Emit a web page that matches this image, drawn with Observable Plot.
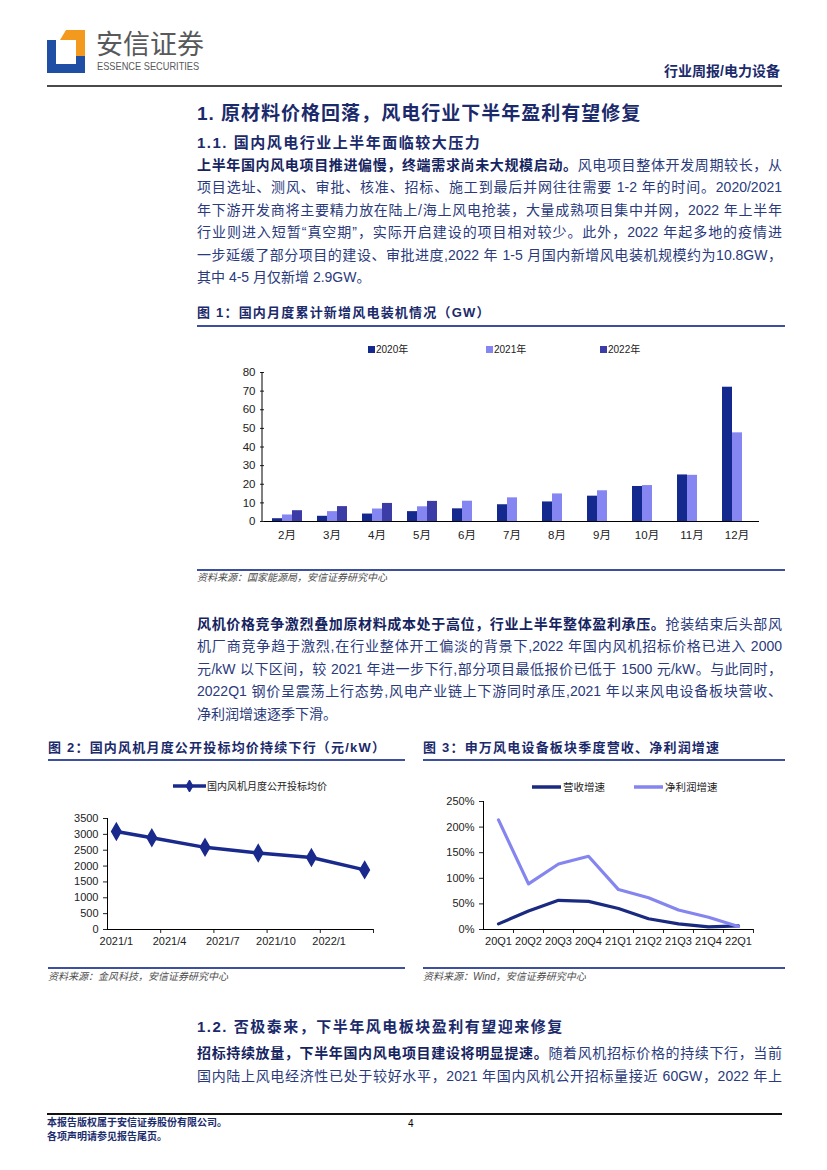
<!DOCTYPE html>
<html><head><meta charset="utf-8">
<script src="https://cdn.jsdelivr.net/npm/d3@7"></script>
<script src="https://cdn.jsdelivr.net/npm/@observablehq/plot@0.6"></script>
<style>
body{margin:0;background:#fff;}
#page{position:relative;width:827px;height:1170px;overflow:hidden;background:#fff;font-family:"Liberation Sans","Noto Sans CJK SC",sans-serif;color:#2a3a7c;}
.abs{position:absolute;white-space:nowrap;}
.line{position:absolute;left:197px;width:585px;font-size:14px;height:22px;line-height:22px;text-align:justify;text-align-last:justify;}
.last{text-align:left;text-align-last:left;}
.line b{color:#152460;}
.h1{left:197px;font-size:19px;font-weight:bold;color:#1b2a6b;letter-spacing:1px;line-height:26px;}
.h2{left:197px;font-size:15px;font-weight:bold;color:#1b2a6b;letter-spacing:1.5px;line-height:22px;}
.ft{font-size:13px;font-weight:bold;color:#1b2a6b;letter-spacing:1.2px;line-height:18px;}
.rule{position:absolute;height:2px;background:#3d4f9f;}
.src{font-size:10px;font-style:italic;color:#4d4d4d;line-height:14px;}
.leg{font-size:10px;color:#222;line-height:14px;}
.foot{font-size:10px;font-weight:bold;color:#1c2d6e;line-height:14px;left:47px;}
</style></head>
<body>
<div id="page">
  <!-- header -->
  <svg class="abs" style="left:47px;top:30px" width="40" height="44">
    <polygon points="0,10 9,10 9,34 29,34 29,26 38,26 38,43 0,43" fill="#1f4fa4"/>
    <polygon points="19,0 38,0 38,26 29,26 29,10 13,10" fill="#f39a1e"/>
  </svg>
  <div class="abs" style="left:96px;top:28px;font-size:27px;color:#58595b;line-height:34px;">安信证券</div>
  <div class="abs" style="left:97px;top:60px;font-size:10.5px;color:#58595b;line-height:13px;transform:scaleX(0.88);transform-origin:left;">ESSENCE SECURITIES</div>
  <div class="abs" style="right:47px;top:62px;font-size:14px;font-weight:bold;color:#1b2a6b;line-height:18px;">行业周报/电力设备</div>
  <div class="abs" style="left:47px;top:85px;width:735px;height:2px;background:#4a4a4a;"></div>

  <div class="abs h1" style="top:101px;">1. 原材料价格回落，风电行业下半年盈利有望修复</div>
  <div class="abs h2" style="top:132px;">1.1. 国内风电行业上半年面临较大压力</div>

  <div class="line" style="top:154px;"><b>上半年国内风电项目推进偏慢，终端需求尚未大规模启动。</b>风电项目整体开发周期较长，从</div>
  <div class="line" style="top:176px;">项目选址、测风、审批、核准、招标、施工到最后并网往往需要 1-2 年的时间。2020/2021</div>
  <div class="line" style="top:199px;">年下游开发商将主要精力放在陆上/海上风电抢装，大量成熟项目集中并网，2022 年上半年</div>
  <div class="line" style="top:221px;">行业则进入短暂“真空期”，实际开启建设的项目相对较少。此外，2022 年起多地的疫情进</div>
  <div class="line" style="top:244px;">一步延缓了部分项目的建设、审批进度,2022 年 1-5 月国内新增风电装机规模约为10.8GW，</div>
  <div class="line last" style="top:266px;">其中 4-5 月仅新增 2.9GW。</div>

  <div class="abs ft" style="left:197px;top:304px;">图 1：国内月度累计新增风电装机情况（GW）</div>
  <div class="rule" style="left:197px;top:325px;width:588px;"></div>
  <div id="leg1"></div>
  <div id="c1" class="abs" style="left:190px;top:340px;"></div>
  <div class="rule" style="left:197px;top:569px;width:588px;"></div>
  <div class="abs src" style="left:197px;top:571px;">资料来源：国家能源局，安信证券研究中心</div>

  <div class="line" style="top:613px;"><b>风机价格竞争激烈叠加原材料成本处于高位，行业上半年整体盈利承压。</b>抢装结束后头部风</div>
  <div class="line" style="top:635px;">机厂商竞争趋于激烈,在行业整体开工偏淡的背景下,2022 年国内风机招标价格已进入 2000</div>
  <div class="line" style="top:658px;">元/kW 以下区间，较 2021 年进一步下行,部分项目最低报价已低于 1500 元/kW。与此同时，</div>
  <div class="line" style="top:680px;">2022Q1 钢价呈震荡上行态势,风电产业链上下游同时承压,2021 年以来风电设备板块营收、</div>
  <div class="line last" style="top:703px;">净利润增速逐季下滑。</div>

  <div class="abs ft" style="left:48px;top:739px;">图 2：国内风机月度公开投标均价持续下行（元/kW）</div>
  <div class="rule" style="left:48px;top:759px;width:357px;"></div>
  <div class="abs ft" style="left:423px;top:739px;">图 3：申万风电设备板块季度营收、净利润增速</div>
  <div class="rule" style="left:423px;top:759px;width:362px;"></div>

  <div id="c2" class="abs" style="left:40px;top:800px;"></div>
  <div id="leg2"></div>
  <div id="c3" class="abs" style="left:415px;top:792px;"></div>
  <div id="leg3"></div>

  <div class="rule" style="left:48px;top:967px;width:357px;"></div>
  <div class="abs src" style="left:48px;top:970px;">资料来源：金风科技，安信证券研究中心</div>
  <div class="rule" style="left:423px;top:967px;width:362px;"></div>
  <div class="abs src" style="left:423px;top:970px;">资料来源：Wind，安信证券研究中心</div>

  <div class="abs h2" style="top:1016px;">1.2. 否极泰来，下半年风电板块盈利有望迎来修复</div>
  <div class="line" style="top:1042px;"><b>招标持续放量，下半年国内风电项目建设将明显提速。</b>随着风机招标价格的持续下行，当前</div>
  <div class="line" style="top:1065px;">国内陆上风电经济性已处于较好水平，2021 年国内风机公开招标量接近 60GW，2022 年上</div>

  <div class="abs" style="left:47px;top:1113px;width:735px;height:2px;background:#111;"></div>
  <div class="abs foot" style="top:1116px;">本报告版权属于安信证券股份有限公司。</div>
  <div class="abs foot" style="top:1130px;">各项声明请参见报告尾页。</div>
  <div class="abs" style="left:408px;top:1117px;font-size:10px;color:#000;line-height:14px;">4</div>
</div>

<script>
// ---------- Figure 1 data ----------
const months1 = ["2月","3月","4月","5月","6月","7月","8月","9月","10月","11月","12月"];
const series1 = ["2020年","2021年","2022年"];
const colors1 = ["#14298d","#8686f3","#3c3ca7"];
const cap2020 = [1.5, 2.8, 4.0, 5.3, 6.8, 9.0, 10.5, 13.6, 18.8, 25.0, 72.1];
const cap2021 = [3.5, 5.3, 6.7, 7.9, 10.9, 12.7, 14.8, 16.5, 19.3, 24.8, 47.6];
const cap2022 = [5.8, 8.0, 9.7, 10.8];
const yTicks1 = [0,10,20,30,40,50,60,70,80];

// ---------- Figure 2 data ----------
const priceMonths = ["2021/1","2021/3","2021/6","2021/9","2021/12","2022/3"];
const priceValues = [3090, 2890, 2590, 2410, 2270, 1880];
const priceTickLabels = ["2021/1","2021/4","2021/7","2021/10","2022/1"];
const priceAxisEnd = "2022/3";
const priceYTicks = [0,500,1000,1500,2000,2500,3000,3500];
const priceName = "国内风机月度公开投标均价";
const priceColor = "#1a2a8c";

// ---------- Figure 3 data ----------
const quarters = ["20Q1","20Q2","20Q3","20Q4","21Q1","21Q2","21Q3","21Q4","22Q1"];
const revenueGrowth = [11, 36, 57, 55, 41, 21, 11, 5, 7];
const profitGrowth = [214, 89, 128, 143, 78, 62, 38, 24, 6];
const growthNames = ["营收增速","净利润增速"];
const growthColors = ["#1a2a80","#8585f0"];
const growthYTicks = [0,50,100,150,200,250];

const FONT = '"Liberation Sans","Noto Sans CJK SC",sans-serif';

// ---------- Chart 1 ----------
const rows1 = [];
months1.forEach((m, i) => {
  [cap2020, cap2021, cap2022].forEach((arr, j) => {
    if (arr[i] != null) rows1.push({month: m, series: series1[j], value: arr[i]});
  });
});
const chart1 = Plot.plot({
  width: 600, height: 215,
  marginTop: 32, marginBottom: 34, marginLeft: 72, marginRight: 30,
  style: {fontFamily: FONT, fontSize: "11.5px", color: "#222", background: "transparent", overflow: "visible"},
  facet: {data: rows1, x: "month"},
  fx: {domain: months1, padding: 0, label: null, tickSize: 0, axis: "bottom", tickPadding: 9},
  x: {domain: series1, axis: null, paddingInner: 0, paddingOuter: 0.66},
  y: {domain: [0, 80], ticks: yTicks1, tickSize: 4, label: null},
  color: {domain: series1, range: colors1},
  marks: [
    Plot.barY(rows1, {x: "series", y: "value", fill: "series", inset: 0}),
    Plot.ruleY([0], {stroke: "#000"})
  ]
});
document.getElementById("c1").appendChild(chart1);
{
  const fxS = chart1.scale("fx"), yS = chart1.scale("y");
  d3.select(chart1).append("line")
    .attr("x1", fxS.range[0]).attr("x2", fxS.range[0])
    .attr("y1", yS.range[0]).attr("y2", yS.range[1])
    .attr("stroke", "#000");
}
// legend 1
{
  const leg = d3.select("#leg1");
  const lefts = [368, 486, 600];
  series1.forEach((s, i) => {
    const d = leg.append("div").attr("class", "abs leg").style("left", lefts[i] + "px").style("top", "343px");
    d.append("span").style("display", "inline-block").style("width", "7px").style("height", "7px")
      .style("background", colors1[i]).style("margin-right", "1px").style("vertical-align", "0px");
    d.append("span").text(s);
  });
}

// ---------- Chart 2 ----------
const mIndex = s => { const [y, m] = s.split("/").map(Number); return (y - 2021) * 12 + (m - 1); };
const priceRows = priceMonths.map((m, i) => ({idx: mIndex(m), value: priceValues[i]}));
const xMin2 = mIndex(priceTickLabels[0]) - 0.5, xMax2 = mIndex(priceAxisEnd) + 0.5;
const labelIdx2 = priceTickLabels.map(mIndex);
const boundIdx2 = labelIdx2.slice(1).map(v => v - 0.5).concat([xMax2]);
const chart2 = Plot.plot({
  width: 365, height: 160,
  marginTop: 18, marginBottom: 31, marginLeft: 67, marginRight: 32,
  style: {fontFamily: FONT, fontSize: "11px", color: "#222", background: "transparent", overflow: "visible"},
  x: {domain: [xMin2, xMax2], axis: null},
  y: {domain: [0, 3500], axis: null},
  marks: [
    Plot.axisY({ticks: priceYTicks, tickSize: 4, tickFormat: d => String(d), label: null}),
    Plot.axisX({ticks: labelIdx2, tickSize: 0, tickPadding: 8, tickFormat: (d, i) => priceTickLabels[labelIdx2.indexOf(d)], label: null}),
    Plot.axisX({ticks: boundIdx2, tickSize: 4, tickFormat: () => "", label: null}),
    Plot.ruleX([xMin2], {y1: 0, y2: 3500, stroke: "#000"}),
    Plot.ruleY([0], {stroke: "#000"}),
    Plot.line(priceRows, {x: "idx", y: "value", stroke: priceColor, strokeWidth: 3.5}),
    Plot.dot(priceRows, {x: "idx", y: "value", symbol: "diamond", r: 5, fill: priceColor, stroke: priceColor})
  ]
});
document.getElementById("c2").appendChild(chart2);
// legend 2
{
  const leg = d3.select("#leg2").append("div").attr("class", "abs leg").style("left", "173px").style("top", "780px");
  const sw = leg.append("svg").attr("width", 33).attr("height", 12).style("vertical-align", "-2px");
  sw.append("line").attr("x1", 0).attr("x2", 33).attr("y1", 6).attr("y2", 6).attr("stroke", priceColor).attr("stroke-width", 3.5);
  sw.append("path").attr("d", d3.symbol(d3.symbolDiamond, 55)()).attr("transform", "translate(16.5,6)").attr("fill", priceColor);
  leg.append("span").style("margin-left", "1px").text(priceName);
}

// ---------- Chart 3 ----------
const growthRows = [];
quarters.forEach((q, i) => {
  growthRows.push({idx: i, value: revenueGrowth[i], series: growthNames[0]});
  growthRows.push({idx: i, value: profitGrowth[i], series: growthNames[1]});
});
const qIdx = quarters.map((q, i) => i);
const chart3 = Plot.plot({
  width: 380, height: 168,
  marginTop: 9, marginBottom: 31, marginLeft: 68, marginRight: 42,
  style: {fontFamily: FONT, fontSize: "11px", color: "#222", background: "transparent", overflow: "visible"},
  x: {domain: [-0.5, quarters.length - 0.5], axis: null},
  y: {domain: [0, 250], axis: null},
  color: {domain: growthNames, range: growthColors},
  marks: [
    Plot.axisY({ticks: growthYTicks, tickSize: 4, tickFormat: d => d + "%", label: null}),
    Plot.axisX({ticks: qIdx, tickSize: 0, tickPadding: 8, tickFormat: d => quarters[d], label: null}),
    Plot.axisX({ticks: qIdx.map(i => i + 0.5), tickSize: 4, tickFormat: () => "", label: null}),
    Plot.ruleX([-0.5], {y1: 0, y2: 250, stroke: "#000"}),
    Plot.ruleY([0], {stroke: "#000"}),
    Plot.line(growthRows, {x: "idx", y: "value", z: "series", stroke: "series", strokeWidth: 3.2, curve: "linear"})
  ]
});
document.getElementById("c3").appendChild(chart3);
// legend 3
{
  const lefts = [532, 634];
  growthNames.forEach((n, i) => {
    const leg = d3.select("#leg3").append("div").attr("class", "abs leg").style("left", lefts[i] + "px").style("top", "780px").style("font-size", "10.5px");
    const sw = leg.append("svg").attr("width", 29).attr("height", 12).style("vertical-align", "-2px");
    sw.append("line").attr("x1", 0).attr("x2", 29).attr("y1", 6).attr("y2", 6).attr("stroke", growthColors[i]).attr("stroke-width", 3.5);
    leg.append("span").style("margin-left", "2px").text(n);
  });
}
</script>
</body></html>
